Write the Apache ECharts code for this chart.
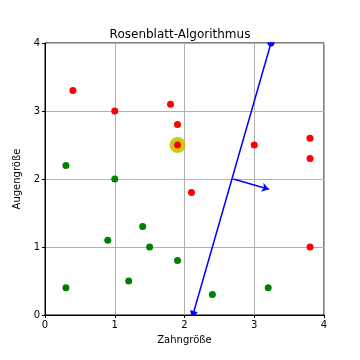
<!DOCTYPE html>
<html><head><meta charset="utf-8">
<script src="https://cdn.jsdelivr.net/npm/echarts@6/dist/echarts.min.js"></script>
<style>html,body{margin:0;padding:0;background:#fff}#c{width:360px;height:360px}</style>
</head><body><div id="c"></div>
<script>
const redPoints = [[0.4,3.3],[1.0,3.0],[1.8,3.1],[1.9,2.8],[1.9,2.5],[2.1,1.8],[3.0,2.5],[3.8,2.6],[3.8,2.3],[3.8,1.0]];
const greenPoints = [[0.3,2.2],[1.0,2.0],[0.9,1.1],[1.4,1.3],[1.5,1.0],[1.2,0.5],[1.9,0.8],[0.3,0.4],[2.4,0.3],[3.2,0.4]];
const highlight = [[1.9,2.5]];
const separator = [[2.12,0],[3.24,4]];
const normalVec = [[2.7,2.0],[3.21,1.85]];
const ticks = [0,1,2,3,4];
const font = 'DejaVu Sans';
const chart = echarts.init(document.getElementById('c'));
chart.setOption({
  animation:false,
  title:{text:'Rosenblatt-Algorithmus',left:'center',top:24,textStyle:{fontFamily:font,fontSize:12,fontWeight:'normal',color:'#000'}},
  grid:{left:45,right:36,top:43,bottom:45,show:true,borderColor:'#000',borderWidth:1,backgroundColor:'transparent'},
  xAxis:{type:'value',min:0,max:4,interval:1,name:'Zahngröße',nameLocation:'middle',nameGap:20,
    nameTextStyle:{fontFamily:font,fontSize:10,color:'#000'},
    axisLine:{show:true,lineStyle:{color:'#000'}},axisTick:{show:true,length:3,lineStyle:{color:'#000'}},
    axisLabel:{fontFamily:font,fontSize:10,color:'#000',margin:5},
    splitLine:{show:true,lineStyle:{color:'#b0b0b0',width:1}}},
  yAxis:{type:'value',min:0,max:4,interval:1,name:'Augengröße',nameLocation:'middle',nameGap:18,
    nameTextStyle:{fontFamily:font,fontSize:10,color:'#000'},
    axisLine:{show:true,lineStyle:{color:'#000'}},axisTick:{show:true,length:3,lineStyle:{color:'#000'}},
    axisLabel:{fontFamily:font,fontSize:10,color:'#000',margin:5},
    splitLine:{show:true,lineStyle:{color:'#b0b0b0',width:1}}},
  series:[
    {type:'scatter',data:highlight,symbolSize:16,itemStyle:{color:'#c4c400',opacity:0.9},z:2},
    {type:'scatter',data:redPoints,symbolSize:7,itemStyle:{color:'#ff0000',opacity:1},z:3},
    {type:'scatter',data:greenPoints,symbolSize:7,itemStyle:{color:'#008000',opacity:1},z:3},
    {type:'lines',coordinateSystem:'cartesian2d',polyline:false,
      data:[{coords:separator}],symbol:['triangle','circle'],symbolSize:[8,7],
      lineStyle:{color:'#0000ff',width:1.5,opacity:1},z:4},
    {type:'lines',coordinateSystem:'cartesian2d',polyline:false,
      data:[{coords:normalVec}],symbol:['none','arrow'],symbolSize:7,
      lineStyle:{color:'#0000ff',width:1.5,opacity:1},z:4}
  ]
});
</script></body></html>
